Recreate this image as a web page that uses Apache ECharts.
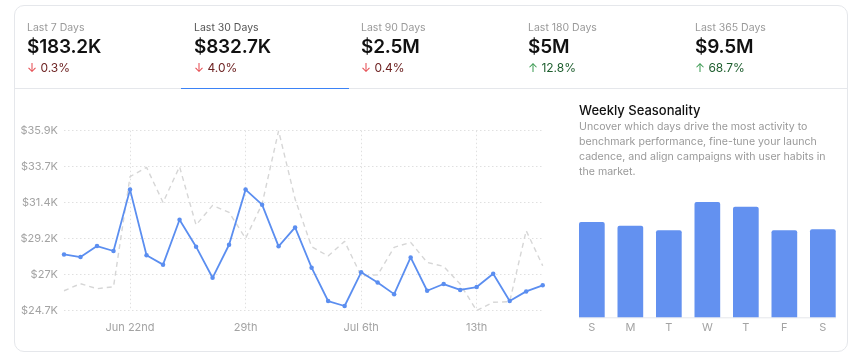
<!DOCTYPE html>
<html>
<head>
<meta charset="utf-8">
<script src="https://cdn.jsdelivr.net/npm/echarts@6/dist/echarts.min.js"></script>
<style>
  html,body{margin:0;padding:0;background:#fff;}
  body{width:859px;height:360px;position:relative;overflow:hidden;font-family:Inter,"Noto Sans",sans-serif;}
  #card{position:absolute;left:13.5px;top:4.5px;width:834px;height:347px;border:1px solid #e5e7eb;border-radius:10px;box-sizing:border-box;}
  #divider{position:absolute;left:14px;top:87.5px;width:834px;height:1px;background:#e5e7eb;}
  .tab{position:absolute;top:5px;width:167px;height:83px;}
  .tab .lbl{position:absolute;left:13px;top:16px;font-size:10.5px;color:#9a9a9a;line-height:14px;white-space:nowrap;}
  .tab.sel .lbl{color:#555;}
  .tab .val{position:absolute;left:13px;top:31px;font-size:19px;font-weight:600;color:#111;line-height:22px;white-space:nowrap;letter-spacing:-0.2px;}
  .tab .chg{position:absolute;left:13px;top:55px;font-size:12px;line-height:16px;white-space:nowrap;}
  .chg.down .ar{color:#e5484d;} .chg.down .tx{color:#6e2323;}
  .chg.up .ar{color:#3b9a52;} .chg.up .tx{color:#1e5e2e;}
  .tab.sel .uline{position:absolute;left:0;bottom:-1px;width:168px;height:1.5px;background:#3b82f6;}
  #wsTitle{position:absolute;left:579px;top:102px;font-size:13px;font-weight:500;color:#111;line-height:17px;}
  #wsDesc{position:absolute;left:579px;top:119px;width:250px;font-size:10.6px;color:#9a9a9a;line-height:15px;}
  #chart{position:absolute;left:0;top:0;width:859px;height:360px;}
</style>
</head>
<body>
<div id="card"></div>
<div id="chart"></div>
<div id="divider"></div>
<div id="tabs"></div>
<div id="wsTitle"></div>
<div id="wsDesc"></div>
<script>
// ---- data ----
const tabLabels = ["Last 7 Days","Last 30 Days","Last 90 Days","Last 180 Days","Last 365 Days"];
const tabValues = ["$183.2K","$832.7K","$2.5M","$5M","$9.5M"];
const tabChanges = ["0.3%","4.0%","0.4%","12.8%","68.7%"];
const tabDirections = ["down","down","down","up","up"];
const selectedTab = 1;

const dates = ["Jun 18","Jun 19","Jun 20","Jun 21","Jun 22","Jun 23","Jun 24","Jun 25","Jun 26","Jun 27",
  "Jun 28","Jun 29","Jun 30","Jul 1","Jul 2","Jul 3","Jul 4","Jul 5","Jul 6","Jul 7",
  "Jul 8","Jul 9","Jul 10","Jul 11","Jul 12","Jul 13","Jul 14","Jul 15","Jul 16","Jul 17"];
const currentPeriod = [28220,28050,28740,28430,32260,28160,27580,30380,28700,26760,
  28820,32260,31320,28720,29900,27390,25310,25000,27100,26470,
  25740,28030,25950,26370,26000,26180,27010,25310,25910,26290];
const previousPeriod = [25950,26390,26080,26200,33070,33650,31460,33690,30050,31280,
  30840,29220,31360,35930,31670,28700,28120,29030,26880,26940,
  28660,28970,27720,27470,26370,24710,25230,25270,29700,27510];
const xTickIndices = [4,11,18,25];
const xTickLabels = ["Jun 22nd","29th","Jul 6th","13th"];
const yMin = 24706, yMax = 35936, yInterval = 2246;

const weekdays = ["S","M","T","W","T","F","S"];
const weekdayValues = [29430,28290,26870,35610,34150,26870,27180];
const barMax = 40000;

const wsTitle = "Weekly Seasonality";
const wsDesc = "Uncover which days drive the most activity to benchmark performance, fine-tune your launch cadence, and align campaigns with user habits in the market.";

// ---- HTML text ----
const tabsEl = document.getElementById('tabs');
tabLabels.forEach((l,i)=>{
  const d = document.createElement('div');
  d.className = 'tab' + (i===selectedTab?' sel':'');
  d.style.left = (14 + 167*i) + 'px';
  const arrow = tabDirections[i]==='down' ? '\u2193' : '\u2191';
  d.innerHTML = '<div class="lbl"></div><div class="val"></div><div class="chg '+tabDirections[i]+'"><span class="ar">'+arrow+'</span> <span class="tx"></span></div>' + (i===selectedTab?'<div class="uline"></div>':'');
  d.querySelector('.lbl').textContent = l;
  d.querySelector('.val').textContent = tabValues[i];
  d.querySelector('.tx').textContent = tabChanges[i];
  tabsEl.appendChild(d);
});
document.getElementById('wsTitle').textContent = wsTitle;
document.getElementById('wsDesc').textContent = wsDesc;

// ---- chart ----
const chart = echarts.init(document.getElementById('chart'), null, {renderer:'canvas'});
const fmtK = v => '$' + (Math.round(v/100)/10).toString() + 'K';
const blue = '#5b8ef0';
const gridColor = '#e0e0e0';
const labelColor = '#a3a3a3';

chart.setOption({
  animation:false,
  grid:[
    {left:64, top:130.7, width:478.7, height:180},
    {left:572.6, top:187.8, width:269.5, height:129.5}
  ],
  xAxis:[
    {gridIndex:0, type:'category', data:dates, boundaryGap:false,
     axisLine:{show:false}, axisTick:{show:false},
     axisLabel:{color:labelColor, fontSize:11, fontFamily:'Inter', margin:11,
       interval:(idx)=>xTickIndices.indexOf(idx)>=0,
       formatter:(v,idx)=>{const k=xTickIndices.indexOf(idx);return k>=0?xTickLabels[k]:'';}},
     splitLine:{show:true, interval:(idx)=>xTickIndices.indexOf(idx)>=0, lineStyle:{color:gridColor, type:[1.5,2.5], width:1}}
    },
    {gridIndex:1, type:'category', data:weekdays,
     axisLine:{show:false}, axisTick:{show:false},
     axisLabel:{color:labelColor, fontSize:11, fontFamily:'Inter', margin:5}
    }
  ],
  yAxis:[
    {gridIndex:0, type:'value', min:yMin, max:yMax, interval:yInterval,
     axisLine:{show:false}, axisTick:{show:false},
     axisLabel:{color:labelColor, fontSize:11, fontFamily:'Inter', margin:6, formatter:fmtK},
     splitLine:{show:true, lineStyle:{color:gridColor, type:[1.5,2.5], width:1}}
    },
    {gridIndex:1, type:'value', min:0, max:barMax, show:false, splitLine:{show:false}}
  ],
  series:[
    {type:'line', xAxisIndex:0, yAxisIndex:0, data:previousPeriod, symbol:'none', z:2,
     lineStyle:{color:'#d6d6d6', width:1.4, type:[5,4]}},
    {type:'line', xAxisIndex:0, yAxisIndex:0, data:currentPeriod, symbol:'circle', symbolSize:4.5, z:3,
     itemStyle:{color:blue}, lineStyle:{color:blue, width:1.8}},
    {type:'bar', xAxisIndex:1, yAxisIndex:1, data:weekdayValues, barWidth:25.7,
     itemStyle:{color:'#6391f0', borderRadius:[2,2,0,0]}}
  ],
  graphic:[
    {type:'line', shape:{x1:579, y1:317.8, x2:836, y2:317.8}, style:{stroke:'#e5e7eb', lineWidth:1}, z:-1}
  ]
});
</script>
</body>
</html>
